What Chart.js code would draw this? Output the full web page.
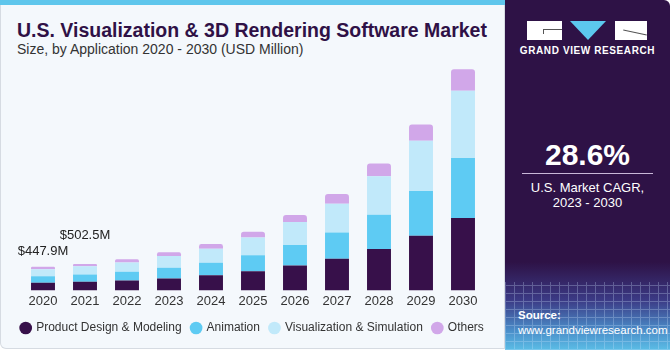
<!DOCTYPE html>
<html>
<head>
<meta charset="utf-8">
<script src="https://cdn.jsdelivr.net/npm/chart.js@4"></script>
<style>
  body { margin: 0; width: 670px; height: 350px; background: #ffffff; font-family: "Liberation Sans", Arial, sans-serif; overflow: hidden; }
  .left { position: absolute; left: 0; top: 0; width: 503px; height: 348px; background: #f4f8fc; border: 1px solid #d6dbe2; border-top: none; border-radius: 0 0 0 6px; }
  .stripe { position: absolute; left: 0; top: 0; width: 505px; height: 5px; background: #5fc6ec; }
  .title { position: absolute; left: 17px; top: 19px; font-size: 19.5px; font-weight: bold; color: #2f1146; white-space: nowrap; }
  .sub { position: absolute; left: 17px; top: 41px; font-size: 14px; color: #333; white-space: nowrap; }
  .right { position: absolute; left: 505px; top: 0; width: 165px; height: 350px; border-radius: 0 6px 0 0;
    background: linear-gradient(to bottom, #2e1246 0px, #2e1246 262px, #3b3a85 300px, #4a8cc8 330px, #5bbde6 350px); overflow: hidden; }
  .grid { position: absolute; left: 0; top: 282px; width: 165px; height: 68px; opacity: 0.28;
    background-image: repeating-linear-gradient(90deg, #cfe6ff 0 1px, transparent 1px 9px), repeating-linear-gradient(0deg, #cfe6ff 0 1px, transparent 1px 8px); }
  .logo { position: absolute; top: 21px; height: 19px; background: #fff; }
  .tri { position: absolute; left: 65px; top: 21px; width: 0; height: 0; border-left: 18px solid transparent; border-right: 18px solid transparent; border-top: 19px solid #5cc8ee; }
  .risco { position: absolute; background: #555; }
  .gvr { position: absolute; left: 0; width: 165px; top: 45px; text-align: center; color: #fff; font-size: 10px; font-weight: bold; letter-spacing: 0.6px; }
  .cagr { position: absolute; left: 0; width: 165px; top: 138px; text-align: center; color: #fff; font-size: 30px; font-weight: bold; }
  .line { position: absolute; left: 17px; width: 131px; top: 173px; height: 1px; background: #c9b8d8; }
  .cap { position: absolute; left: 0; width: 165px; top: 180px; text-align: center; color: #fff; font-size: 13px; line-height: 15px; }
  .src { position: absolute; left: 13px; top: 308px; color: #fff; font-size: 11.5px; line-height: 15px; }
  #wrap { position: absolute; left: 0; top: 58px; width: 505px; height: 290px; }
</style>
</head>
<body>
<div class="left"></div>
<div class="stripe"></div>
<div class="title">U.S. Visualization &amp; 3D Rendering Software Market</div>
<div class="sub">Size, by Application 2020 - 2030 (USD Million)</div>
<div class="right">
  <div class="grid"></div>
  <div class="logo" style="left:22px;width:35px"></div>
  <div class="risco" style="left:38px;top:29px;width:19px;height:1px"></div>
  <div class="risco" style="left:38px;top:29px;width:1px;height:5px"></div>
  <div class="tri"></div>
  <div class="logo" style="left:110px;width:32px"></div>
  <div class="risco" style="left:118px;top:32px;width:24px;height:1px;transform:rotate(12deg)"></div>
  <div class="gvr">GRAND VIEW RESEARCH</div>
  <div class="cagr">28.6%</div>
  <div class="line"></div>
  <div class="cap">U.S. Market CAGR,<br>2023 - 2030</div>
  <div class="src"><b>Source:</b><br>www.grandviewresearch.com</div>
</div>
<div id="wrap"><canvas id="chart"></canvas></div>
<script>
const years = ["2020","2021","2022","2023","2024","2025","2026","2027","2028","2029","2030"];
const productDesign = [145, 164, 189, 226, 288, 364, 471, 603, 786, 1037, 1376];
const animation = [124, 138, 164, 202, 239, 302, 390, 496, 652, 848, 1137];
const visualization = [132, 156, 175, 226, 264, 339, 439, 547, 730, 956, 1276];
const others = [47, 45, 62, 68, 89, 107, 132, 183, 239, 307, 409];
const callouts = ["$447.9M", "$502.5M"]; // rótulos de 2020 e 2021

const fonte = "'Liberation Sans', Arial, sans-serif";

const labelPlugin = {
  id: "callouts",
  afterDatasetsDraw(chart) {
    const ctx = chart.ctx;
    const x = chart.scales.x, y = chart.scales.y;
    const offs = [15, 28];
    ctx.save();
    ctx.font = "13px " + fonte;
    ctx.fillStyle = "#222";
    ctx.textAlign = "center";
    ctx.textBaseline = "middle";
    callouts.forEach((t, i) => {
      const total = productDesign[i] + animation[i] + visualization[i] + others[i];
      ctx.fillText(t, x.getPixelForValue(i), y.getPixelForValue(total) - offs[i]);
    });
    ctx.restore();
  }
};

// eixo invisível só para reservar margem lateral (a legenda continua com largura total)
const margem = w => ({
  display: true, grid: { display: false, drawTicks: false }, border: { display: false },
  ticks: { display: false }, afterFit: s => { s.width = w; }
});

new Chart(document.getElementById("chart"), {
  type: "bar",
  data: {
    labels: years,
    datasets: [
      { label: "Product Design & Modeling", data: productDesign, backgroundColor: "#37104a" },
      { label: "Animation", data: animation, backgroundColor: "#5ecbf3" },
      { label: "Visualization & Simulation", data: visualization, backgroundColor: "#c1e9fa" },
      { label: "Others", data: others, backgroundColor: "#d1a7e9", borderRadius: { topLeft: 3, topRight: 3 }, borderSkipped: false }
    ]
  },
  options: {
    responsive: true,
    maintainAspectRatio: false,
    animation: false,
    datasets: { bar: { categoryPercentage: 1, barPercentage: 0.57 } },
    layout: { padding: { left: 0, right: 0, top: 2, bottom: 4 } },
    plugins: {
      tooltip: { enabled: false },
      legend: {
        position: "bottom",
        labels: {
          usePointStyle: true, pointStyle: "circle", boxWidth: 9, boxHeight: 9, padding: 10,
          color: "#333", font: { size: 12, family: fonte }
        }
      }
    },
    scales: {
      x: {
        stacked: true,
        grid: { display: false, drawTicks: false },
        border: { display: false },
        ticks: { color: "#333", padding: 3, font: { size: 13, family: fonte } }
      },
      y: Object.assign(margem(22), { stacked: true, min: 0, max: 4373, position: "left" }),
      yR: Object.assign(margem(21), { position: "right", min: 0, max: 1 })
    }
  },
  plugins: [labelPlugin]
});
</script>
</body>
</html>
